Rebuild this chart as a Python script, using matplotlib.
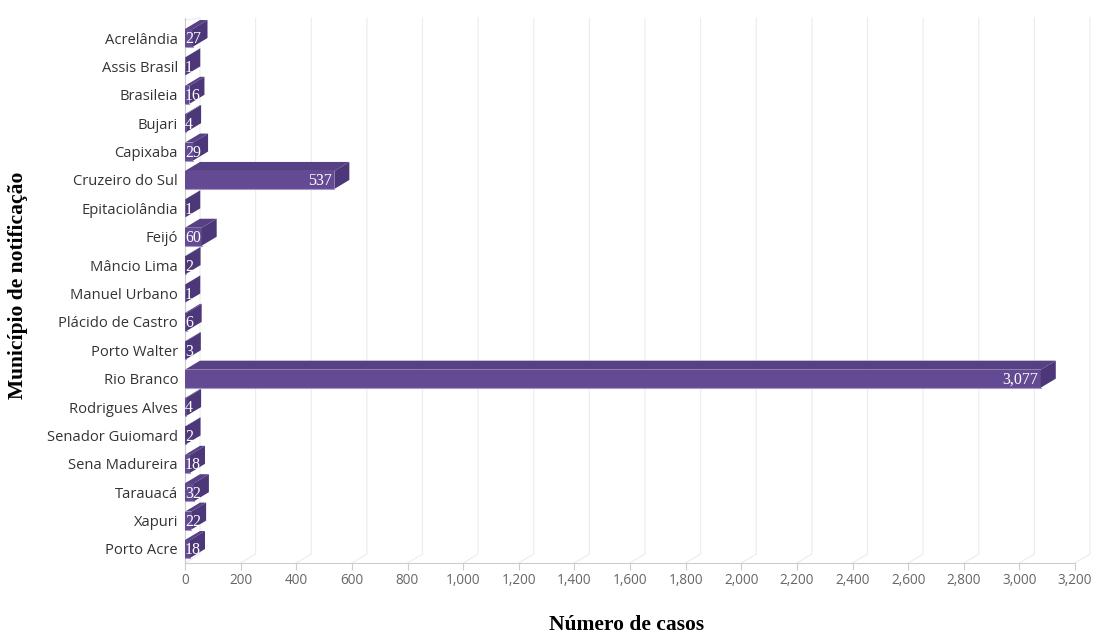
import matplotlib
matplotlib.use("Agg")
import matplotlib.pyplot as plt
from matplotlib.patches import Polygon, Rectangle
from matplotlib.ticker import FuncFormatter

# ---- data ----
municipios = ["Acrelândia", "Assis Brasil", "Brasileia", "Bujari", "Capixaba",
              "Cruzeiro do Sul", "Epitaciolândia", "Feijó", "Mâncio Lima",
              "Manuel Urbano", "Plácido de Castro", "Porto Walter", "Rio Branco",
              "Rodrigues Alves", "Senador Guiomard", "Sena Madureira", "Tarauacá",
              "Xapuri", "Porto Acre"]
casos = [27, 1, 16, 4, 29, 537, 1, 60, 2, 1, 6, 3, 3077, 4, 2, 18, 32, 22, 18]
x_ticks = list(range(0, 3201, 200))
x_title = "Número de casos"
y_title = "Município de notificação"

# ---- layout ----
W, H = 1093, 635
fig = plt.figure(figsize=(W / 100, H / 100), dpi=100)
left_px, right_px, top_px, bottom_px = 185, 1075, 18, 563
ax = fig.add_axes([left_px / W, 1 - bottom_px / H, (right_px - left_px) / W, (bottom_px - top_px) / H])

XMAX = 3200
first_y, step = 38, (549 - 38) / 18
ylo = (bottom_px - first_y) / step
yhi = (top_px - first_y) / step
ax.set_xlim(0, XMAX)
ax.set_ylim(ylo, yhi)

px_x = XMAX / (right_px - left_px)   # data units per pixel (x)
px_y = 1 / step                      # data units per pixel (y)
DX = 15 * px_x
DY = 9 * px_y
HALF = 9 * px_y

front_c = "#644a93"
top_c = "#574185"
side_c = "#4c3779"
edge_c = "#a898c8"
grid_c = "#ececec"

# 3D grid (floor diagonal + back wall vertical)
for t in x_ticks:
    ax.plot([t, t + DX, t + DX], [ylo, ylo - DY, yhi], color=grid_c, lw=0.8,
            zorder=0.5, clip_on=False)
ax.plot([0, DX], [yhi + 0.08, yhi], color=grid_c, lw=0.8, zorder=0.5, clip_on=False)

# bars
for i, v in enumerate(casos):
    y0, y1 = i - HALF, i + HALF
    ax.add_patch(Rectangle((0, y0), v, y1 - y0, facecolor=front_c, edgecolor="none", zorder=2))
    ax.plot([0, v], [y1, y1], color=edge_c, lw=0.8, zorder=2.1)
    ax.add_patch(Polygon([(0, y0), (v, y0), (v + DX, y0 - DY), (DX, y0 - DY)],
                         closed=True, facecolor=top_c, edgecolor="none", zorder=2))
    ax.add_patch(Polygon([(v, y0), (v, y1), (v + DX, y1 - DY), (v + DX, y0 - DY)],
                         closed=True, facecolor=side_c, edgecolor="none", zorder=2.2))
    label = f"{v:,}"
    bar_px = v / px_x
    if bar_px > 30:
        ax.annotate(label, (v, i), xytext=(-2.0, -1.0), textcoords="offset points",
                    ha="right", va="center", color="white", fontsize=11.5,
                    family="Liberation Serif", zorder=3)
    else:
        ax.annotate(label, (0, i), xytext=(0.0, -1.0), textcoords="offset points",
                    ha="left", va="center", color="white", fontsize=11.5,
                    family="Liberation Serif", zorder=3)

# axes styling
for s in ["top", "right"]:
    ax.spines[s].set_visible(False)
ax.spines["left"].set_color("#cccccc")
ax.spines["bottom"].set_color("#cccccc")
ax.spines["left"].set_zorder(1)

ax.set_yticks(range(len(municipios)))
ax.set_yticklabels(municipios, family="Open Sans", fontsize=10.6, color="#333333")
ax.tick_params(axis="y", length=0, pad=5)

ax.set_xticks(x_ticks)
ax.xaxis.set_major_formatter(FuncFormatter(lambda x, p: f"{int(x):,}"))
ax.tick_params(axis="x", length=5, color="#cccccc", labelsize=9.8, labelcolor="#666666", pad=2)
for lbl in ax.get_xticklabels():
    lbl.set_family("Open Sans")

fig.text(627 / W, 1 - 625 / H, x_title, ha="center", va="center",
         family="Liberation Serif", fontweight="bold", fontsize=15.5, color="black")
fig.text(18 / W, 1 - 285 / H, y_title, ha="center", va="center", rotation=90,
         family="Liberation Serif", fontweight="bold", fontsize=15.5, color="black")

fig.savefig("out.png", dpi=100)
